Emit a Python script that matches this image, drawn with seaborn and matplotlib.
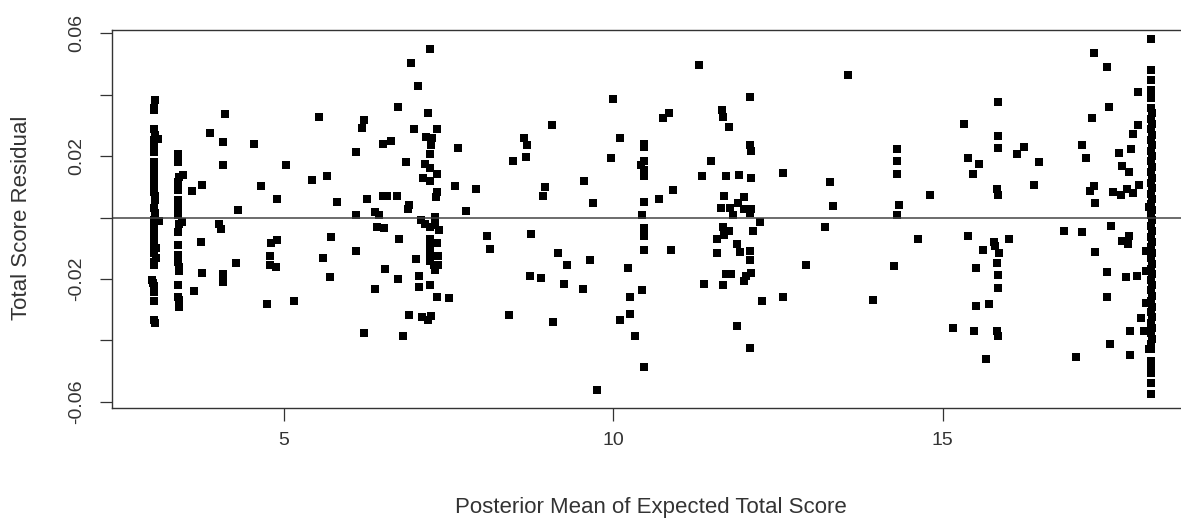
import matplotlib
matplotlib.use("Agg")
import matplotlib.pyplot as plt
import seaborn as sns
import pandas as pd

# ---------------- data (expected total score, residual) ----------------
col_3_0 = [(3.04,0.0384),(3.02,0.0358),(3.02,0.0349),(3.03,0.0290),(3.05,0.0268),(3.09,0.0256),
           (3.03,0.0253),(3.02,0.0230),(3.03,0.0214),(3.02,0.0182),(3.03,0.0166),(3.02,0.0150),
           (3.03,0.0134),(3.02,0.0118),(3.03,0.0101),(3.02,0.0085),(3.04,0.0069),(3.04,0.0057),
           (3.03,0.0030),(3.05,0.0015),(3.04,0.0003),(3.11,-0.0012),(3.03,-0.0009),(3.03,-0.0030),
           (3.02,-0.0053),(3.02,-0.0067),(3.03,-0.0085),(3.06,-0.0099),(3.02,-0.0101),(3.03,-0.0116),
           (3.06,-0.0131),(3.03,-0.0146),(3.02,-0.0153),(3.00,-0.0203),(3.01,-0.0212),(3.03,-0.0224),
           (3.02,-0.0242),(3.03,-0.0270),(3.03,-0.0334),(3.04,-0.0344)]

col_3_4 = [(3.39,0.0207),(3.39,0.0195),(3.39,0.0182),(3.47,0.0140),(3.41,0.0133),(3.39,0.0117),
           (3.39,0.0090),(3.39,0.0057),(3.39,0.0030),(3.39,0.0008),(3.45,-0.0013),(3.40,-0.0020),
           (3.39,-0.0046),(3.39,-0.0089),(3.39,-0.0122),(3.39,-0.0144),(3.40,-0.0160),(3.40,-0.0175),
           (3.39,-0.0220),(3.39,-0.0258),(3.40,-0.0268),(3.40,-0.0290)]

range_3_5 = [(4.10,0.0337),(3.88,0.0277),(4.07,0.0247),(4.54,0.0239),(4.07,0.0172),(5.03,0.0172),
             (3.76,0.0107),(4.65,0.0103),(3.60,0.0088),(4.89,0.0061),(4.31,0.0025),(4.02,-0.0020),
             (4.04,-0.0037),(3.74,-0.0080),(4.89,-0.0072),(4.80,-0.0083),(4.79,-0.0124),(4.27,-0.0149),
             (4.79,-0.0155),(4.88,-0.0160),(3.75,-0.0179),(4.08,-0.0184),(4.07,-0.0209),(3.64,-0.0239),
             (4.74,-0.0281)]

range_5_8 = [(7.21,0.0548),(6.93,0.0502),(7.04,0.0430),(6.73,0.0359),(7.19,0.0341),(5.53,0.0328),
             (6.22,0.0318),(6.19,0.0293),(6.97,0.0287),(7.33,0.0287),(6.62,0.0250),(6.51,0.0240),
             (7.16,0.0264),(7.25,0.0259),(7.23,0.0237),(7.65,0.0227),(6.09,0.0215),(7.22,0.0208),
             (6.85,0.0181),(7.14,0.0174),(7.21,0.0163),(7.33,0.0143),(5.66,0.0134),(5.42,0.0121),
             (7.11,0.0129),(7.21,0.0120),(7.60,0.0103),(7.33,0.0085),(7.31,0.0066),(5.81,0.0052),
             (6.26,0.0061),(6.50,0.0070),(6.56,0.0070),(6.71,0.0070),(6.90,0.0040),(6.88,0.0028),
             (7.76,0.0021),(6.10,0.0007),(6.39,0.0017),(6.45,0.0007),(7.08,-0.0009),(7.14,-0.0020),
             (7.30,0.0002),(7.22,-0.0032),(7.30,-0.0023),(7.36,-0.0039),(6.41,-0.0032),(6.52,-0.0034),
             (5.72,-0.0063),(6.74,-0.0070),(7.22,-0.0069),(7.33,-0.0083),(7.21,-0.0096),(6.09,-0.0110),
             (5.60,-0.0133),(7.00,-0.0136),(7.22,-0.0121),(7.34,-0.0124),(7.21,-0.0142),(7.28,-0.0153),
             (7.34,-0.0155),(7.30,-0.0170),(6.54,-0.0168),(5.70,-0.0192),(6.73,-0.0201),(7.05,-0.0191),
             (6.39,-0.0233),(7.05,-0.0225),(7.21,-0.0220),(7.33,-0.0259),(7.50,-0.0263),(5.15,-0.0271),
             (6.90,-0.0317),(7.10,-0.0324),(7.23,-0.0320),(7.18,-0.0333),(6.22,-0.0376),(6.80,-0.0385)]

range_8_11 = [(10.00,0.0385),(9.07,0.0302),(8.65,0.0259),(8.69,0.0236),(10.10,0.0259),(8.67,0.0199),
              (8.47,0.0183),(9.97,0.0195),(10.46,0.0240),(10.46,0.0230),(10.46,0.0183),(10.42,0.0170),
              (10.46,0.0156),(10.46,0.0134),(9.56,0.0120),(7.91,0.0093),(8.96,0.0099),(8.93,0.0070),
              (9.69,0.0046),(10.46,0.0052),(10.43,0.0009),(10.46,-0.0034),(10.46,-0.0060),(10.46,-0.0106),
              (8.09,-0.0060),(8.13,-0.0101),(8.75,-0.0052),(9.16,-0.0114),(9.29,-0.0155),(9.65,-0.0137),
              (10.23,-0.0164),(8.73,-0.0191),(8.90,-0.0197),(9.25,-0.0215),(9.54,-0.0234),(10.43,-0.0237),
              (10.25,-0.0257),(8.41,-0.0317),(9.09,-0.0340),(10.10,-0.0335),(10.25,-0.0313),(10.33,-0.0386),
              (10.46,-0.0487),(9.75,-0.0560)]

range_11_13 = [(11.30,0.0497),(12.08,0.0394),(11.65,0.0351),(11.66,0.0329),(10.85,0.0340),(10.75,0.0324),
               (11.75,0.0295),(12.08,0.0237),(12.09,0.0218),(11.49,0.0183),(11.34,0.0136),(11.71,0.0136),
               (11.91,0.0139),(12.09,0.0129),(12.57,0.0145),(10.90,0.0091),(10.70,0.0060),(11.68,0.0071),
               (11.99,0.0066),(11.63,0.0031),(11.77,0.0031),(11.90,0.0047),(11.99,0.0028),(12.09,0.0028),
               (11.82,0.0009),(12.08,0.0015),(12.23,-0.0014),(13.21,-0.0032),(11.66,-0.0032),(11.75,-0.0043),
               (11.68,-0.0056),(11.58,-0.0069),(12.12,-0.0045),(11.88,-0.0085),(10.88,-0.0105),(11.58,-0.0116),
               (11.92,-0.0113),(12.08,-0.0110),(12.08,-0.0137),(12.93,-0.0155),(11.71,-0.0184),(11.78,-0.0184),
               (12.09,-0.0180),(12.01,-0.0191),(11.98,-0.0207),(11.38,-0.0215),(11.67,-0.0220),(12.25,-0.0272),
               (12.57,-0.0260),(11.88,-0.0353),(12.08,-0.0423)]

range_13_16 = [(13.57,0.0466),(15.84,0.0376),(15.33,0.0306),(15.84,0.0267),(15.84,0.0226),(14.30,0.0222),
               (14.30,0.0184),(14.30,0.0143),(15.39,0.0195),(15.55,0.0175),(15.46,0.0143),(13.29,0.0116),
               (14.80,0.0075),(15.82,0.0093),(15.84,0.0075),(13.34,0.0037),(14.33,0.0042),(14.30,0.0007),
               (14.63,-0.0069),(15.39,-0.0060),(15.78,-0.0080),(15.79,-0.0094),(15.61,-0.0105),(15.86,-0.0115),
               (15.83,-0.0147),(14.26,-0.0158),(15.51,-0.0165),(15.84,-0.0188),(15.84,-0.0229),(13.94,-0.0267),
               (15.51,-0.0289),(15.71,-0.0280),(15.16,-0.0358),(15.48,-0.0368),(15.82,-0.0368),(15.84,-0.0386),
               (15.66,-0.0461)]

range_16_18 = [(17.29,0.0535),(17.50,0.0489),(17.96,0.0410),(17.53,0.0359),(17.26,0.0323),(17.96,0.0300),
               (17.89,0.0273),(17.11,0.0236),(16.23,0.0231),(16.13,0.0208),(17.18,0.0195),(17.68,0.0212),
               (17.86,0.0224),(16.46,0.0181),(17.72,0.0168),(17.83,0.0148),(16.39,0.0105),(17.29,0.0104),
               (17.24,0.0088),(17.58,0.0085),(17.70,0.0074),(17.80,0.0094),(17.89,0.0080),(17.98,0.0105),
               (17.31,0.0047),(18.13,0.0035),(16.84,-0.0043),(17.11,-0.0047),(16.01,-0.0071),(17.56,-0.0027),
               (17.72,-0.0075),(17.83,-0.0060),(17.82,-0.0086),(17.31,-0.0112),(18.09,-0.0108),(17.50,-0.0177),
               (17.78,-0.0193),(17.95,-0.0190),(18.09,-0.0173),(17.50,-0.0260),(18.08,-0.0279),(18.01,-0.0326),
               (17.84,-0.0368),(18.06,-0.0368),(17.54,-0.0413),(18.13,-0.0429),(17.84,-0.0446),(17.03,-0.0455)]

col_18_2 = [(18.17,0.0581),(18.17,0.0482),(18.17,0.0447),(18.17,0.0417),(18.16,0.0388),
            (18.16,0.0356),(18.18,0.0340),(18.17,0.0322),(18.18,0.0305),(18.17,0.0288),(18.18,0.0270),
            (18.17,0.0252),(18.18,0.0236),(18.17,0.0218),(18.18,0.0200),(18.17,0.0183),(18.18,0.0166),
            (18.17,0.0148),(18.18,0.0130),(18.17,0.0113),(18.18,0.0096),(18.17,0.0078),(18.18,0.0060),
            (18.17,0.0043),(18.18,0.0026),(18.17,0.0008),(18.18,-0.0009),(18.17,-0.0027),(18.18,-0.0044),
            (18.17,-0.0062),(18.18,-0.0080),(18.17,-0.0097),(18.18,-0.0114),(18.17,-0.0132),(18.18,-0.0150),
            (18.17,-0.0167),(18.18,-0.0184),(18.17,-0.0202),(18.18,-0.0220),(18.17,-0.0237),(18.18,-0.0254),
            (18.17,-0.0272),(18.18,-0.0290),(18.17,-0.0307),(18.18,-0.0324),(18.17,-0.0342),(18.18,-0.0360),
            (18.17,-0.0377),(18.18,-0.0394),(18.17,-0.0412),(18.16,-0.0429),
            (18.17,-0.0468),(18.17,-0.0479),(18.17,-0.0492),(18.17,-0.0506),(18.17,-0.0537),(18.17,-0.0574)]

x_ticks = [5, 10, 15]
x_tick_labels = ["5", "10", "15"]
y_ticks = [-0.06, -0.04, -0.02, 0.0, 0.02, 0.04, 0.06]
y_tick_labels = ["-0.06", "", "-0.02", "", "0.02", "", "0.06"]
x_label = "Posterior Mean of Expected Total Score"
y_label = "Total Score Residual"

groups = [col_3_0, col_3_4, range_3_5, range_5_8, range_8_11, range_11_13,
          range_13_16, range_16_18, col_18_2]
pts = [p for g in groups for p in g]
df = pd.DataFrame(pts, columns=["expected", "residual"])

# ---------------- figure ----------------
sns.set_theme(style="white")
plt.rcParams["font.family"] = ["Liberation Sans", "DejaVu Sans"]

W, H = 1181, 521
fig = plt.figure(figsize=(W / 100, H / 100), dpi=100)
left, right, top, bottom = 112, 1193, 30, 408
ax = fig.add_axes([left / W, 1 - bottom / H, (right - left) / W, (bottom - top) / H])

sns.scatterplot(data=df, x="expected", y="residual", marker="s", color="black",
                s=30, linewidth=0, ax=ax, legend=False)
ax.axhline(0, color="#444444", lw=1.1, zorder=1)

ax.set_xlim(2.39, 18.80)
ax.set_ylim(-0.0620, 0.0611)

text_col = "#333333"
ax.set_xticks(x_ticks)
ax.set_xticklabels(x_tick_labels, fontsize=14, color=text_col)
ax.set_yticks(y_ticks)
ax.set_yticklabels(y_tick_labels, fontsize=14, color=text_col, rotation=90, va="center")
ax.tick_params(axis="both", direction="out", length=9, width=0.9, color="#333333",
               bottom=True, left=True, top=False, right=False)
ax.tick_params(axis="x", pad=8)
ax.tick_params(axis="y", pad=10)

for side in ["left", "bottom", "top"]:
    ax.spines[side].set_visible(True)
    ax.spines[side].set_color("#333333")
    ax.spines[side].set_linewidth(1.0)
ax.spines["right"].set_visible(False)

ax.set_xlabel(x_label, fontsize=16, color=text_col)
ax.set_ylabel(y_label, fontsize=16, color=text_col)
ax.xaxis.label.set_va("center")
ax.yaxis.label.set_va("center")
ax.xaxis.set_label_coords((651 - left) / (right - left), (bottom - 507) / (bottom - top))
ax.yaxis.set_label_coords((22 - left) / (right - left), (bottom - 218) / (bottom - top))

fig.savefig("out.png", dpi=100)
